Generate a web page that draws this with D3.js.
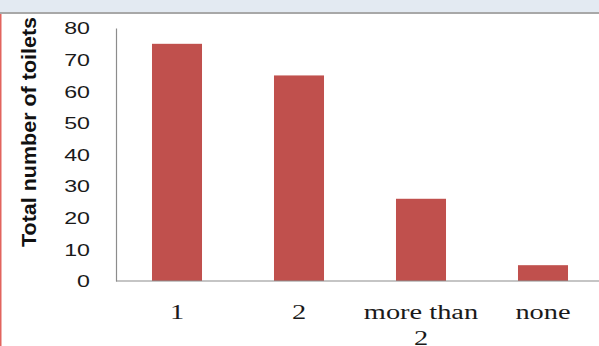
<!DOCTYPE html>
<html>
<head>
<meta charset="utf-8">
<script src="https://cdn.jsdelivr.net/npm/d3@7"></script>
<style>
  body { margin: 0; background: #fff; }
  svg { display: block; }
</style>
</head>
<body>
<div id="chart"></div>
<script>
const categories = ['1', '2', 'more than 2', 'none'];
const toilets = [75, 65, 26, 5];
const yTicks = [0, 10, 20, 30, 40, 50, 60, 70, 80];
const categoryLines = [['1'], ['2'], ['more than', '2'], ['none']];

const width = 599, height = 346;
const svg = d3.select('#chart').append('svg')
    .attr('width', width)
    .attr('height', height);

// window chrome round the picture
svg.append('rect').attr('x', 0).attr('y', 0).attr('width', width).attr('height', 12).attr('fill', '#e3eaf2');
svg.append('rect').attr('x', 0).attr('y', 12).attr('width', width).attr('height', 2).attr('fill', '#a8a8a8');
svg.append('rect').attr('x', 0).attr('y', 14).attr('width', 1.5).attr('height', height - 14).attr('fill', '#e2645e');

const x = d3.scaleBand()
    .domain(categories)
    .range([116, 604])
    .paddingInner(0.59)
    .paddingOuter(0.295);

const y = d3.scaleLinear()
    .domain([0, 80])
    .range([281, 28]);

svg.selectAll('.bar')
    .data(toilets)
    .enter().append('rect')
    .attr('class', 'bar')
    .attr('x', (d, i) => x(categories[i]))
    .attr('y', d => y(d))
    .attr('width', x.bandwidth())
    .attr('height', d => y(0) - y(d))
    .attr('fill', '#c0504d');

// y axis
const yAxis = svg.append('g')
    .attr('transform', 'translate(116,0)')
    .call(d3.axisLeft(y).tickValues(yTicks).tickSize(0).tickSizeOuter(0));
yAxis.select('.domain').attr('stroke', '#8c8c8c').attr('stroke-width', 1.2);
yAxis.selectAll('text')
    .attr('x', 0)
    .attr('dy', '0.36em')
    .attr('transform', 'translate(-26,0) scale(1.45,1)')
    .attr('font-family', '"Liberation Sans", Arial, sans-serif')
    .attr('font-size', 16)
    .attr('fill', '#1a1a1a');

// x axis baseline
svg.append('line')
    .attr('x1', 116).attr('x2', width)
    .attr('y1', y(0)).attr('y2', y(0))
    .attr('stroke', '#8c8c8c')
    .attr('stroke-width', 1.2);

// category labels
const xLabels = svg.selectAll('.xlabel')
    .data(categoryLines)
    .enter().append('text')
    .attr('class', 'xlabel')
    .attr('transform', (d, i) => `translate(${x(categories[i]) + x.bandwidth() / 2},319) scale(1.42,1)`)
    .attr('text-anchor', 'middle')
    .attr('font-family', '"Liberation Serif", "Times New Roman", serif')
    .attr('font-size', 20)
    .attr('fill', '#1a1a1a');
xLabels.selectAll('tspan')
    .data(d => d)
    .enter().append('tspan')
    .attr('x', 0)
    .attr('dy', (d, i) => i === 0 ? 0 : 26)
    .text(d => d);

// y title
svg.append('text')
    .attr('transform', 'translate(36,132) scale(1.3,1) rotate(-90)')
    .attr('text-anchor', 'middle')
    .attr('font-family', '"Liberation Sans", Arial, sans-serif')
    .attr('font-weight', 'bold')
    .attr('font-size', 16)
    .attr('textLength', 230)
    .attr('lengthAdjust', 'spacingAndGlyphs')
    .attr('fill', '#111')
    .text('Total number of toilets');
</script>
</body>
</html>
